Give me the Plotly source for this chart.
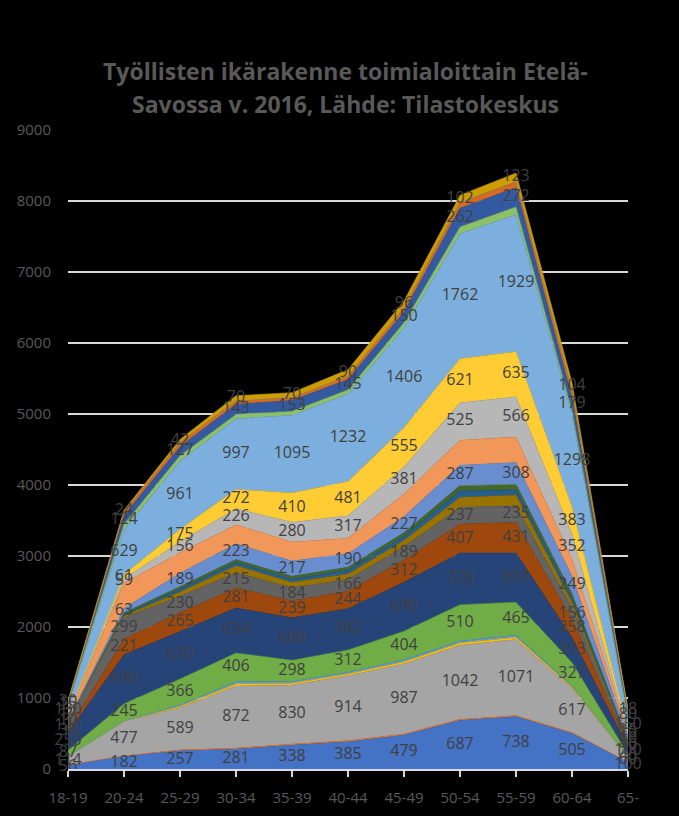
import plotly.graph_objects as go

age_groups = ["18-19", "20-24", "25-29", "30-34", "35-39", "40-44",
              "45-49", "50-54", "55-59", "60-64", "65-"]

series_names = [
    "A Maatalous, metsätalous ja kalatalous",
    "B Kaivostoiminta ja louhinta",
    "C Teollisuus",
    "D Sähkö-, kaasu- ja lämpöhuolto",
    "E Vesi-, viemäri- ja jätehuolto",
    "F Rakentaminen",
    "G Tukku- ja vähittäiskauppa",
    "H Kuljetus ja varastointi",
    "I Majoitus- ja ravitsemistoiminta",
    "J Informaatio ja viestintä",
    "K Rahoitus- ja vakuutustoiminta",
    "L Kiinteistöalan toiminta",
    "M Ammatillinen, tieteellinen ja tekninen toiminta",
    "N Hallinto- ja tukipalvelutoiminta",
    "O Julkinen hallinto ja maanpuolustus",
    "P Koulutus",
    "Q Terveys- ja sosiaalipalvelut",
    "R Taiteet, viihde ja virkistys",
    "S Muu palvelutoiminta",
    "T Kotitalouksien toiminta työnantajina",
    "U Kansainvälisten organisaatioiden toiminta",
    "X Toimiala tuntematon",
]

A = [56, 182, 257, 281, 338, 385, 479, 687, 738, 505, 100]
B = [4, 5, 15, 15, 15, 15, 15, 15, 15, 10, 3]
C = [114, 477, 589, 872, 830, 914, 987, 1042, 1071, 617, 60]
D = [2, 5, 20, 30, 25, 25, 28, 30, 30, 20, 1]
E = [2, 5, 20, 30, 25, 25, 28, 30, 30, 20, 2]
F = [87, 245, 366, 406, 298, 312, 404, 510, 465, 327, 40]
G = [250, 690, 670, 634, 600, 582, 690, 728, 693, 353, 100]
H = [30, 221, 265, 281, 239, 244, 312, 407, 431, 258, 40]
I = [120, 299, 230, 215, 184, 166, 189, 237, 235, 156, 15]
J = [3, 30, 60, 100, 75, 80, 90, 140, 150, 80, 10]
K = [2, 20, 40, 45, 45, 50, 55, 90, 70, 50, 5]
L = [2, 20, 35, 40, 40, 45, 50, 75, 80, 70, 20]
M = [10, 63, 189, 223, 217, 190, 227, 287, 308, 249, 60]
N = [58, 356, 290, 267, 266, 217, 320, 354, 360, 239, 50]
O = [7, 59, 156, 226, 280, 317, 381, 525, 566, 352, 10]
P = [17, 61, 175, 272, 410, 481, 555, 621, 635, 383, 25]
Q = [130, 629, 961, 997, 1095, 1232, 1406, 1762, 1929, 1298, 150]
R = [20, 80, 75, 60, 55, 60, 70, 95, 110, 60, 30]
S = [15, 124, 127, 143, 153, 145, 150, 262, 272, 179, 80]
T = [5, 50, 60, 50, 40, 50, 60, 80, 80, 110, 20]
U = [0, 0, 0, 0, 0, 0, 0, 2, 2, 0, 0]
X = [30, 24, 42, 70, 70, 90, 96, 102, 123, 104, 18]

series_values = [A, B, C, D, E, F, G, H, I, J, K, L, M, N, O, P, Q, R, S, T, U, X]

colors = ["#4472C4", "#ED7D31", "#A5A5A5", "#FFC000", "#5B9BD5", "#70AD47",
          "#264478", "#9E480E", "#636363", "#997300", "#255E91", "#43682B",
          "#698ED0", "#F1975A", "#B7B7B7", "#FFCD33", "#7CAFDD", "#8CC168",
          "#335AA1", "#D9691F", "#848484", "#CC9C00"]

# series that carry data labels in the original
labelled = {"A", "C", "F", "G", "H", "I", "M", "O", "P", "Q", "S", "X"}

xs = list(range(len(age_groups)))
fig = go.Figure()

for name, vals, col in zip(series_names, series_values, colors):
    fig.add_trace(go.Scatter(
        x=xs, y=vals, name=name, stackgroup="one", mode="lines",
        line=dict(width=0.6, color=col), fillcolor=col,
        hoverinfo="name+y"))

# data labels at band centres
base = [0] * len(xs)
for name, vals in zip(series_names, series_values):
    mids = [b + v / 2 for b, v in zip(base, vals)]
    if name.split()[0] in labelled:
        fig.add_trace(go.Scatter(
            x=xs, y=mids, mode="text", text=[str(v) for v in vals],
            textposition="middle center", cliponaxis=False,
            textfont=dict(family="Open Sans", size=16, color="#404040"),
            showlegend=False, hoverinfo="skip"))
    base = [b + v for b, v in zip(base, vals)]

fig.update_layout(
    width=679, height=816,
    paper_bgcolor="black", plot_bgcolor="black",
    margin=dict(l=68, r=51, t=130, b=47),
    showlegend=False,
    font=dict(family="Open Sans", color="#595959"),
    annotations=[
        dict(text="<b>Työllisten ikärakenne toimialoittain Etelä-</b>",
             xref="paper", yref="paper", x=0.495, y=1.092,
             xanchor="center", yanchor="middle", showarrow=False,
             font=dict(family="Open Sans", size=23, color="#595959")),
        dict(text="<b>Savossa v. 2016, Lähde: Tilastokeskus</b>",
             xref="paper", yref="paper", x=0.495, y=1.041,
             xanchor="center", yanchor="middle", showarrow=False,
             font=dict(family="Open Sans", size=23, color="#595959")),
    ],
)

fig.update_xaxes(
    range=[0, 10], tickvals=xs, ticktext=age_groups,
    showgrid=False, zeroline=False, automargin=False,
    showline=True, linecolor="#D6DCE4", linewidth=2,
    ticks="outside", ticklen=6, tickcolor="#D9D9D9", tickwidth=2,
    ticklabelstandoff=8,
    tickfont=dict(family="Open Sans", size=15, color="#595959"),
)
fig.update_yaxes(
    range=[0, 9000], dtick=1000, tick0=0,
    showgrid=True, gridcolor="#D9D9D9", gridwidth=2,
    zeroline=False, showline=False, ticks="", automargin=False,
    ticklabelstandoff=16,
    tickfont=dict(family="Open Sans", size=15, color="#595959"),
)

fig.write_html(
    "out.html",
    config={"displayModeBar": False},
    post_script="document.body.style.margin='0';"
                "document.body.style.background='black';",
)
